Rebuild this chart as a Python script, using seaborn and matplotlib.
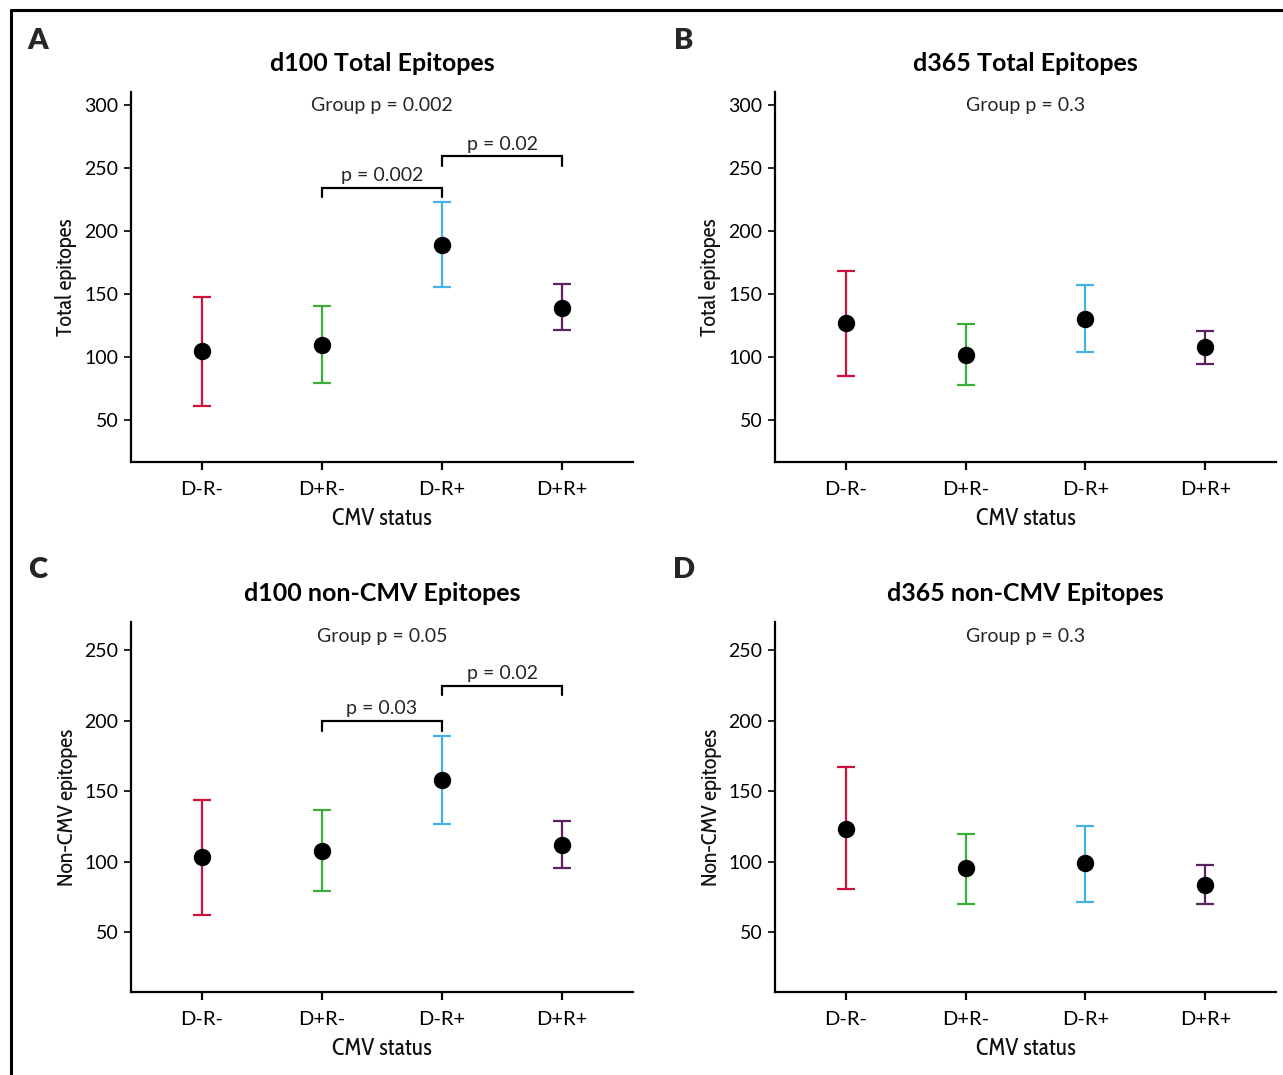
import matplotlib
matplotlib.use("Agg")
import matplotlib.pyplot as plt
import seaborn as sns
import pandas as pd
from matplotlib.lines import Line2D

# ---------------- data ----------------
categories = ["D-R-", "D+R-", "D-R+", "D+R+"]
cat_colors = ["#D0103A", "#3AB03A", "#45B1E8", "#5C2260"]

a_mean = [104.6, 109.8, 189.3, 139.3]
a_low = [61.2, 79.2, 156.0, 121.3]
a_high = [147.5, 140.4, 223.5, 157.7]

b_mean = [126.8, 101.6, 130.6, 108.2]
b_low = [84.7, 77.6, 104.4, 94.5]
b_high = [168.6, 125.9, 157.4, 121.0]

c_mean = [103.4, 108.0, 158.0, 112.0]
c_low = [62.3, 79.5, 126.6, 95.7]
c_high = [143.7, 136.5, 189.2, 129.0]

d_mean = [123.6, 95.4, 99.0, 83.9]
d_low = [81.0, 70.1, 71.6, 69.9]
d_high = [166.9, 119.9, 125.5, 97.6]

panel_titles = ["d100 Total Epitopes", "d365 Total Epitopes",
                "d100 non-CMV Epitopes", "d365 non-CMV Epitopes"]
panel_letters = ["A", "B", "C", "D"]
y_labels = ["Total epitopes", "Total epitopes", "Non-CMV epitopes", "Non-CMV epitopes"]
group_p = ["Group p = 0.002", "Group p = 0.3", "Group p = 0.05", "Group p = 0.3"]
x_label = "CMV status"

# brackets: (i, j, bar_y, leg_bottom, label)
a_brackets = [(1, 2, 234.7, 227.0, "p = 0.002"), (2, 3, 259.6, 252.2, "p = 0.02")]
c_brackets = [(1, 2, 199.8, 192.8, "p = 0.03"), (2, 3, 224.8, 218.0, "p = 0.02")]

top_ticks = [50, 100, 150, 200, 250, 300]
bot_ticks = [50, 100, 150, 200, 250]

# ---------------- style ----------------
sns.set_theme(style="ticks")
plt.rcParams["font.family"] = ["Lato", "DejaVu Sans"]

W, H = 1283, 1075
fig = plt.figure(figsize=(W / 100, H / 100), dpi=100)

panels = [
    dict(mean=a_mean, low=a_low, high=a_high, rect=(131, 92, 633, 462),
         ylim=(16.6, 310.7), ticks=top_ticks, brackets=a_brackets, gp_y=300),
    dict(mean=b_mean, low=b_low, high=b_high, rect=(775, 92, 1276, 462),
         ylim=(16.6, 310.7), ticks=top_ticks, brackets=[], gp_y=300),
    dict(mean=c_mean, low=c_low, high=c_high, rect=(131, 622, 633, 992),
         ylim=(7.8, 270.0), ticks=bot_ticks, brackets=c_brackets, gp_y=260),
    dict(mean=d_mean, low=d_low, high=d_high, rect=(775, 622, 1276, 992),
         ylim=(7.8, 270.0), ticks=bot_ticks, brackets=[], gp_y=260),
]

cond = dict(family=["Cabin Condensed", "DejaVu Sans"])

for k, p in enumerate(panels):
    x0, y0, x1, y1 = p["rect"]
    ax = fig.add_axes([x0 / W, 1 - y1 / H, (x1 - x0) / W, (y1 - y0) / H])
    df = pd.DataFrame({"status": categories, "value": p["mean"]})

    # colored error bars
    for i, cat in enumerate(categories):
        m = p["mean"][i]
        ax.errorbar(i, m, yerr=[[m - p["low"][i]], [p["high"][i] - m]],
                    fmt="none", ecolor=cat_colors[i], elinewidth=1.6,
                    capsize=6.5, capthick=1.6, zorder=2)

    # black mean points
    sns.pointplot(data=df, x="status", y="value", order=categories,
                  color="black", linestyle="none", errorbar=None,
                  markers="o", markersize=10.5, ax=ax, zorder=3)
    for coll in ax.collections:
        coll.set_zorder(3)
    for ln in ax.lines:
        if ln.get_marker() == "o":
            ln.set_zorder(3)

    ax.set_xlim(-0.59, 3.59)
    ax.set_ylim(*p["ylim"])
    ax.set_yticks(p["ticks"])
    ax.set_yticklabels([str(t) for t in p["ticks"]])
    ax.set_xticks(range(len(categories)))
    ax.set_xticklabels(categories)

    sns.despine(ax=ax)
    for side in ["left", "bottom"]:
        ax.spines[side].set_linewidth(1.6)
        ax.spines[side].set_color("black")
    ax.tick_params(axis="y", length=5, width=1.2, labelsize=14, pad=4, colors="black")
    ax.tick_params(axis="x", length=6, width=1.6, labelsize=14.5, pad=8, colors="black")

    ax.set_xlabel(x_label, fontsize=17, labelpad=6, color="#111111", **cond)
    ax.set_ylabel(y_labels[k], fontsize=16, labelpad=5, color="#111111", **cond)
    ax.set_title(panel_titles[k], fontsize=18, fontweight="bold", pad=15, color="black")

    ax.text(1.5, p["gp_y"], group_p[k], ha="center", va="center", fontsize=14)

    for (i, j, by, bl, lab) in p["brackets"]:
        ax.plot([i, i, j, j], [bl, by, by, bl], color="black", lw=1.6,
                solid_joinstyle="miter", zorder=4)
        ax.text((i + j) / 2, by + 3, lab, ha="center", va="bottom", fontsize=14)

    # panel letter
    lx = (38 if x0 < 400 else 684) / W
    ly = 1 - (41 if y0 < 400 else 570) / H
    fig.text(lx, ly, panel_letters[k], ha="center", va="center",
             fontsize=21, fontweight="heavy")

# figure border (top and left lines)
fig.add_artist(Line2D([11 / W, 1.0], [1 - 10 / H, 1 - 10 / H], color="black", lw=2.2,
                      transform=fig.transFigure))
fig.add_artist(Line2D([11 / W, 11 / W], [1 - 10 / H, 0.0], color="black", lw=2.2,
                      transform=fig.transFigure))

fig.savefig("out.png", dpi=100, facecolor="white")
